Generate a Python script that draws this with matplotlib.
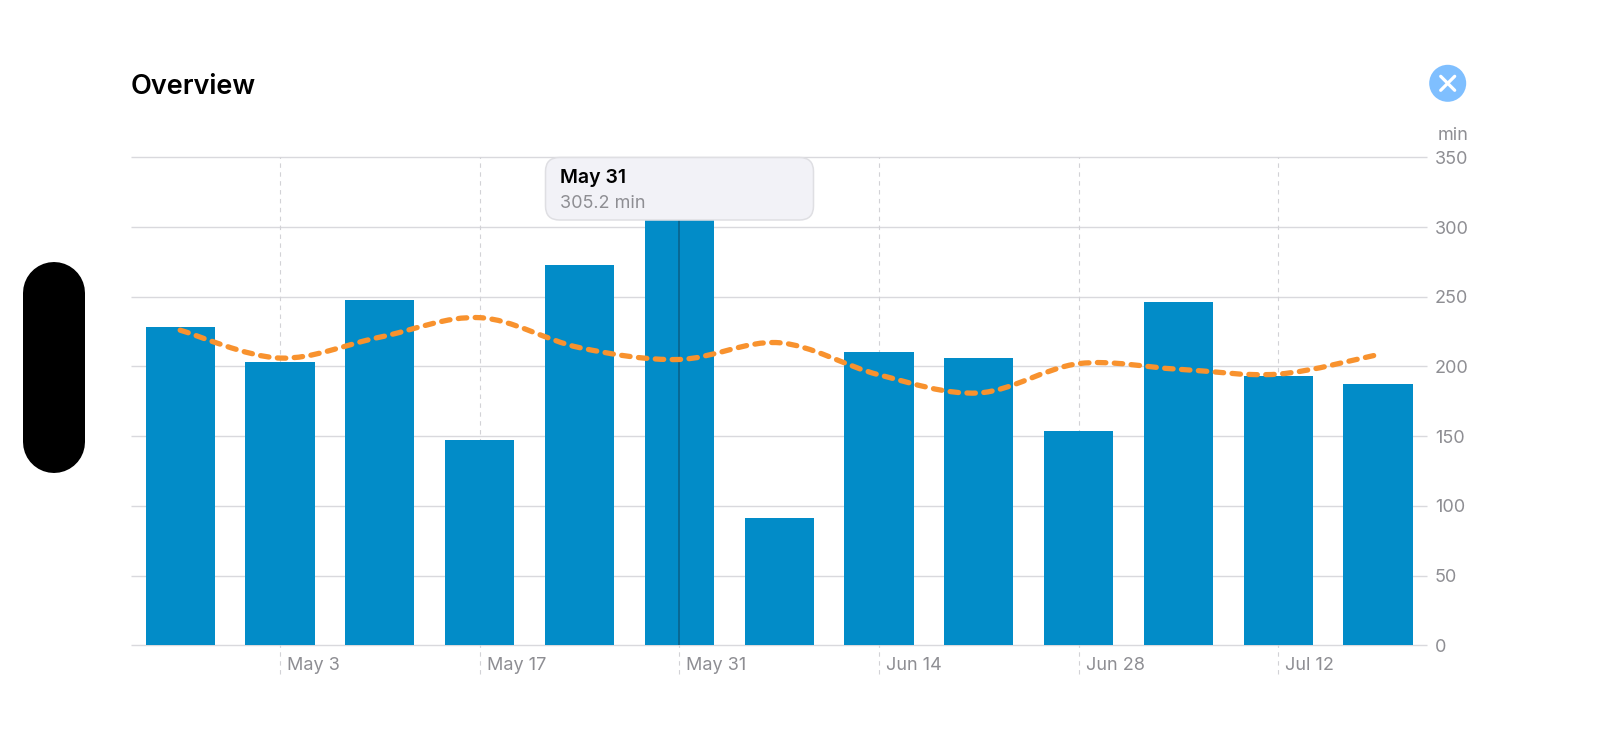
import matplotlib

matplotlib.use("Agg")
import matplotlib.dates as mdates
import matplotlib.pyplot as plt
import numpy as np
import pandas as pd
from matplotlib.patches import Circle, FancyBboxPatch, PathPatch
from matplotlib.path import Path
from matplotlib.transforms import ScaledTranslation

plt.rcParams["font.family"] = ["Inter", "DejaVu Sans"]

weeks = [
    "2024-04-26", "2024-05-03", "2024-05-10", "2024-05-17", "2024-05-24",
    "2024-05-31", "2024-06-07", "2024-06-14", "2024-06-21", "2024-06-28",
    "2024-07-05", "2024-07-12", "2024-07-19",
]
minutes = [228, 203.5, 248, 147, 273, 305.2, 91, 210, 206, 153.5, 246, 193, 187.5]
average = [226, 206, 221, 235, 213.5, 205, 217, 194, 181, 202, 198, 194.5, 208.5]

x_tick_dates = ["2024-05-03", "2024-05-17", "2024-05-31", "2024-06-14", "2024-06-28", "2024-07-12"]
x_tick_labels = ["May 3", "May 17", "May 31", "Jun 14", "Jun 28", "Jul 12"]
y_ticks = [0, 50, 100, 150, 200, 250, 300, 350]
selected_date = "2024-05-31"
selected_value = 305.2

BAR = "#028CC8"
ORANGE = "#F8922E"
GRID = "#D9D9DD"
MUTED = "#8E8E93"
W, H = 1600, 736
LEFT, RIGHT, TOP, BOTTOM = 130.5, 1427, 157.3, 645.3
PX_PER_DAY = 14.26
MAY3_PX = 280


def smooth_path(x, y):
    # Catmull-Rom segments written as cubic beziers
    pts = np.column_stack([np.asarray(x, dtype=float), np.asarray(y, dtype=float)])
    padded = np.vstack([pts[0], pts, pts[-1]])
    verts = [pts[0]]
    codes = [Path.MOVETO]
    for i in range(1, len(padded) - 2):
        p0, p1, p2, p3 = padded[i - 1], padded[i], padded[i + 1], padded[i + 2]
        verts += [p1 + (p2 - p0) / 6, p2 - (p3 - p1) / 6, p2]
        codes += [Path.CURVE4] * 3
    return Path(verts, codes)


dates = mdates.date2num(pd.to_datetime(weeks))
tick_pos = mdates.date2num(pd.to_datetime(x_tick_dates))
selected_pos = mdates.date2num(pd.to_datetime(selected_date))

fig = plt.figure(figsize=(W / 100, H / 100), dpi=100, facecolor="white")
ax = fig.add_axes([LEFT / W, 1 - BOTTOM / H, (RIGHT - LEFT) / W, (BOTTOM - TOP) / H])
ax.set_xlim(tick_pos[0] - (MAY3_PX - LEFT) / PX_PER_DAY, tick_pos[0] + (RIGHT - MAY3_PX) / PX_PER_DAY)
ax.set_ylim(0, 350)
ax.patch.set_alpha(0)
for spine in ax.spines.values():
    spine.set_visible(False)

# horizontal grid and dashed week guides that run below the baseline
ax.hlines(y_ticks, 0, 1, transform=ax.get_yaxis_transform(), color=GRID, lw=1.0, zorder=1, clip_on=False)
ax.vlines(
    tick_pos, -0.059, 1, transform=ax.get_xaxis_transform(), color="#D2D2D6", lw=0.8,
    linestyles=(0, (4, 4)), zorder=1, clip_on=False,
)

ax.bar(dates, minutes, width=69.2 / PX_PER_DAY, color=BAR, zorder=2)
ax.vlines(selected_pos, 0, selected_value, color="#0B5F86", lw=1.1, zorder=3)

avg_line = PathPatch(
    smooth_path(dates, average),
    fill=False, edgecolor=ORANGE, lw=3.8, zorder=4, capstyle="round", joinstyle="round",
    linestyle=(0, (1.6, 1.6)),
)
ax.add_patch(avg_line)

ax.set_xticks(tick_pos)
ax.set_xticklabels(x_tick_labels)
ax.tick_params(axis="x", length=0, pad=8.2, labelsize=13, labelcolor=MUTED)
shift = ScaledTranslation(7 / 100, 0, fig.dpi_scale_trans)
for label in ax.get_xticklabels():
    label.set_ha("left")
    label.set_transform(label.get_transform() + shift)

ax.yaxis.tick_right()
ax.set_yticks(y_ticks)
ax.tick_params(axis="y", length=0, pad=5.8, labelsize=13, labelcolor=MUTED)

# page furniture drawn in pixel coordinates on a full-figure layer
top = fig.add_axes([0, 0, 1, 1], zorder=5)
top.set_xlim(0, W)
top.set_ylim(H, 0)
top.axis("off")
top.patch.set_alpha(0)

top.text(130.5, 87, "Overview", fontsize=19.5, fontweight="semibold", color="black", va="center", ha="left")
top.text(1468.5, 135, "min", fontsize=13, color=MUTED, va="center", ha="right")

# black pill at the left edge, a thick line with round ends
top.plot([53.7, 53.7], [293, 441.5], color="black", lw=62 * 0.72, solid_capstyle="round")

top.add_patch(Circle((1447.7, 83.3), 18.5, facecolor="#7FBFFF", edgecolor="none"))
for sign in (1, -1):
    top.plot(
        [1447.7 - 7, 1447.7 + 7], [83.3 - 7 * sign, 83.3 + 7 * sign],
        color="white", lw=2.3, solid_capstyle="round",
    )

top.add_patch(FancyBboxPatch(
    (545.5 + 14, 157.5 + 14), 268 - 28, 62.5 - 28, boxstyle="round,pad=14,rounding_size=14",
    facecolor="#F2F2F7", edgecolor="#DFDFE3", lw=1.1,
))
top.text(559.5, 178, "May 31", fontsize=14, fontweight="semibold", color="black", va="center", ha="left")
top.text(559.5, 204, "305.2 min", fontsize=13, color=MUTED, va="center", ha="left")

fig.savefig("out.png", dpi=100, facecolor="white")
